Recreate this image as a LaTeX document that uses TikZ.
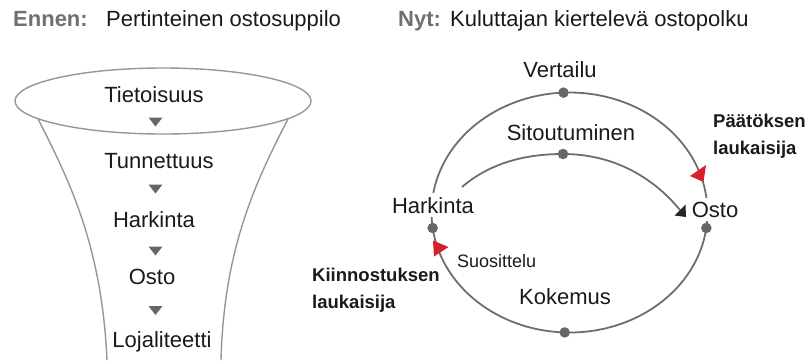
\documentclass[tikz,border=0pt]{standalone}
\usepackage{fontspec}
\setmainfont{Liberation Sans}
\usetikzlibrary{calc}
\definecolor{headgray}{HTML}{707070}
\definecolor{funnelgray}{HTML}{969696}
\definecolor{loopgray}{HTML}{6E6E6E}
\definecolor{dotgray}{HTML}{666666}
\definecolor{flagred}{HTML}{D42130}
\definecolor{ink}{HTML}{1A1A1A}
\begin{document}
\begin{tikzpicture}[x=1pt,y=-1pt,
  every node/.style={inner sep=0pt, text=ink},
  big/.style={font=\fontsize{22}{26}\selectfont},
  head/.style={font=\fontsize{22}{26}\selectfont\bfseries, text=headgray},
  trig/.style={font=\fontsize{18.5}{27}\selectfont\bfseries, align=left},
  small/.style={font=\fontsize{18}{22}\selectfont},
  funnelline/.style={draw=funnelgray, line width=1.4pt},
  loopline/.style={draw=loopgray, line width=1.8pt},
  knot/.style={circle, fill=dotgray, minimum size=10.5pt},
  cover/.style={fill=white, inner sep=4pt},
  downtri/.pic={\fill[dotgray] (-7,-4.5) -- (7,-4.5) -- (0,4.5) -- cycle;}
]
\useasboundingbox (0,0) rectangle (809,360);

% headings
\node[head, anchor=base west] (ennen) at (13,26) {Ennen:};
\node[big, anchor=base west] (vanha) at (106,26) {Pertinteinen ostosuppilo};
\node[head, anchor=base west] (nyt) at (398,26) {Nyt:};
\node[big, anchor=base west] (uusi) at (450,26) {Kuluttajan kiertelevä ostopolku};

% the classic funnel
\draw[funnelline] (163,101) ellipse [x radius=148pt, y radius=33pt];
\draw[funnelline] (38,119) .. controls (72,185) and (102,250) .. (107,360);
\draw[funnelline] (288,119) .. controls (254,185) and (224,250) .. (221,360);

\node[big, anchor=base] (f1) at (154,102) {Tietoisuus};
\node[big, anchor=base] (f2) at (159,168) {Tunnettuus};
\node[big, anchor=base] (f3) at (154,227) {Harkinta};
\node[big, anchor=base] (f4) at (152,284) {Osto};
\node[big, anchor=base] (f5) at (162,347) {Lojaliteetti};
\pic at (155.5,122) {downtri};
\pic at (155.5,189) {downtri};
\pic at (155.5,251) {downtri};
\pic at (155.5,310.5) {downtri};

% the loop of the consumer journey
\coordinate (c) at (569.5,212.5);
\coordinate (hpt) at ($(c)+(187.4:138pt and 120pt)$);
\coordinate (vpt) at ($(c)+(92.5:138pt and 120pt)$);
\coordinate (opt) at ($(c)+(-7.4:138pt and 120pt)$);
\coordinate (kpt) at ($(c)+(-92:138pt and 120pt)$);
\coordinate (spt) at (563,154);
\coordinate (istart) at (462,187);
\coordinate (iend) at (680,210);

\draw[loopline] (hpt)
  arc[start angle=187.4, end angle=92.5, x radius=138pt, y radius=120pt]
  arc[start angle=92.5, end angle=-7.4, x radius=138pt, y radius=120pt]
  arc[start angle=-7.4, end angle=-92, x radius=138pt, y radius=120pt]
  arc[start angle=-92, end angle=-172.6, x radius=138pt, y radius=120pt];

\draw[loopline]
  (istart) .. controls (490,163) and (525,154) .. (spt)
  .. controls (612,154) and (652,176) .. (iend);
% arrowhead into Osto
\fill[black!85] (674.5,215.5) -- (685.5,204.5) -- (686,217) -- cycle;

\node[knot] (hdot) at (hpt) {};
\node[knot] (vdot) at (vpt) {};
\node[knot] (odot) at (opt) {};
\node[knot] (kdot) at (kpt) {};
\node[knot] (sdot) at (spt) {};

% trigger flags
\fill[flagred] (690,176) -- (706,165) -- (703.5,182) -- cycle;
\fill[flagred] (433,240.5) -- (448.5,247) -- (434,256.5) -- cycle;

% stage labels
\node[big, cover, anchor=base] (vert) at (560,77) {Vertailu};
\node[big, cover, anchor=base] (sito) at (571,140) {Sitoutuminen};
\node[big, cover, anchor=base] (hark) at (433,213) {Harkinta};
\node[big, cover, anchor=base] (osto) at (715,217) {Osto};
\node[big, anchor=base] (koke) at (565,304) {Kokemus};
\node[small, anchor=base west] (suos) at (457,267) {Suosittelu};

\node[trig, anchor=north west] (paat) at (713,114) {Päätöksen\\laukaisija};
\node[trig, anchor=north west] (kiin) at (312,268) {Kiinnostuksen\\laukaisija};
\end{tikzpicture}
\end{document}
